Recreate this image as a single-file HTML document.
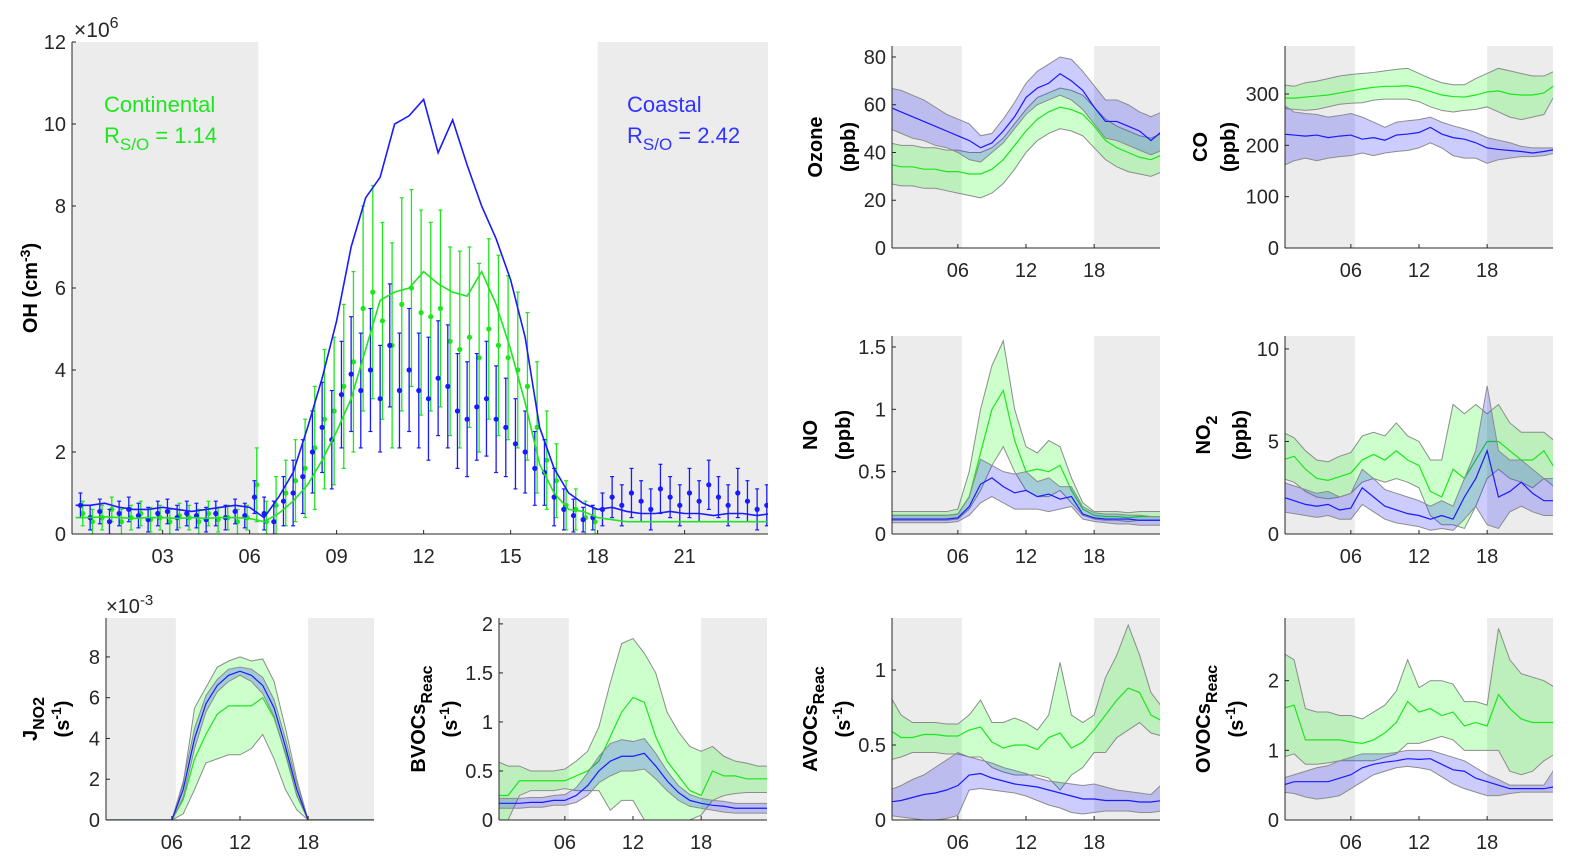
<!DOCTYPE html>
<html><head><meta charset="utf-8"><style>
html,body{margin:0;padding:0;background:#fff}
svg{display:block;font-family:"Liberation Sans",Arial,sans-serif}
</style></head><body>
<svg id="fig" width="1579" height="868" viewBox="0 0 1579 868" xmlns="http://www.w3.org/2000/svg"></svg>
<script>
// ===== main OH panel data =====
const ohLineHours = [0,0.5,1,1.5,2,2.5,3,3.5,4,4.5,5,5.5,6,6.5,7,7.5,8,8.5,9,9.5,10,10.5,11,11.5,12,12.5,13,13.5,14,14.5,15,15.5,16,16.5,17,17.5,18,18.5,19,19.5,20,20.5,21,21.5,22,22.5,23,23.5,24];
const ohCoastalLine = [0.7,0.7,0.75,0.65,0.6,0.6,0.65,0.6,0.55,0.6,0.65,0.7,0.65,0.4,0.9,1.5,2.6,3.8,5.2,7.0,8.2,8.7,10.0,10.2,10.6,9.3,10.1,9.0,8.0,7.2,6.2,4.8,2.6,1.6,1.0,0.75,0.6,0.65,0.55,0.5,0.5,0.55,0.5,0.5,0.45,0.5,0.5,0.45,0.5];
const ohContinentalLine = [0.4,0.4,0.42,0.4,0.38,0.4,0.4,0.38,0.4,0.38,0.4,0.4,0.38,0.3,0.5,0.8,1.2,1.8,2.5,3.3,4.5,5.7,5.9,6.0,6.4,6.1,5.9,5.8,6.4,5.6,4.5,3.2,1.7,1.0,0.6,0.55,0.4,0.35,0.3,0.3,0.3,0.3,0.3,0.3,0.3,0.3,0.3,0.3,0.3];
const ohCoastalDots = [0.7,0.4,0.55,0.3,0.5,0.6,0.45,0.35,0.5,0.55,0.4,0.5,0.45,0.35,0.5,0.4,0.55,0.45,0.9,0.5,0.3,0.8,1.0,1.4,2.0,2.6,2.3,3.4,3.9,3.5,4.0,3.3,4.6,3.5,4.0,3.5,3.3,3.8,3.6,3.0,2.8,3.1,3.3,2.8,2.6,2.2,2.0,1.6,1.5,0.9,0.6,0.45,0.35,0.4,0.6,0.9,0.7,1.0,0.8,0.6,1.1,0.9,0.7,1.0,0.8,1.2,0.9,0.7,1.0,0.8,0.6,0.7];
const ohCoastalErr = [0.3,0.3,0.3,0.3,0.3,0.3,0.3,0.3,0.3,0.3,0.3,0.3,0.3,0.3,0.3,0.3,0.3,0.3,0.4,0.4,0.5,0.6,0.8,0.9,1.0,1.1,1.2,1.3,1.4,1.4,1.5,1.3,1.5,1.4,1.5,1.4,1.5,1.4,1.5,1.4,1.4,1.3,1.4,1.3,1.2,1.1,1.0,0.9,0.8,0.7,0.5,0.4,0.3,0.3,0.4,0.5,0.5,0.6,0.5,0.5,0.6,0.5,0.5,0.6,0.5,0.6,0.5,0.5,0.6,0.5,0.5,0.5];
const ohContinentalDots = [0.5,0.3,0.4,0.6,0.3,0.4,0.5,0.35,0.4,0.3,0.45,0.4,0.3,0.5,0.35,0.4,0.3,0.4,1.2,0.3,0.7,1.0,1.3,1.6,2.1,2.8,3.0,3.6,4.2,5.5,5.9,5.2,4.6,5.6,6.0,5.4,5.3,5.5,4.7,4.5,4.8,4.3,5.0,4.6,4.3,4.0,3.6,2.6,1.8,1.3,0.7,0.6,0.4,0.3,null,null,null,null,null,null,null,null,null,null,null,null,null,null,null,null,null,null];
const ohContinentalErr = [0.3,0.3,0.3,0.3,0.3,0.3,0.3,0.3,0.3,0.3,0.3,0.3,0.3,0.3,0.3,0.3,0.3,0.3,0.9,0.5,0.7,0.8,1.0,1.2,1.5,1.7,1.8,2.0,2.2,2.5,2.6,2.4,2.5,2.6,2.4,2.5,2.3,2.4,2.3,2.4,2.2,2.3,2.2,2.2,2.0,1.9,1.8,1.6,1.2,0.9,0.6,0.5,0.4,0.3,null,null,null,null,null,null,null,null,null,null,null,null,null,null,null,null,null,null];
const ohYTicks = [0,2,4,6,8,10,12];
const ohXTicks = [3,6,9,12,15,18,21];
const ohXTickLabels = ["03","06","09","12","15","18","21"];

// ===== small panel data (hourly 0..24) =====
const hours = [0,1,2,3,4,5,6,7,8,9,10,11,12,13,14,15,16,17,18,19,20,21,22,23,24];
const smallXTicks = [6,12,18];
const smallXTickLabels = ["06","12","18"];

const ozoneGreen = [35,34,34,33,33,32,32,31,31,33,37,43,49,54,57,59,58,56,51,45,42,40,38,37,39];
const ozoneGreenHi = [44,43,43,42,42,41,41,40,40,42,46,52,58,63,65,67,66,64,59,54,51,49,47,46,48];
const ozoneGreenLo = [27,26,26,25,25,24,23,22,21,23,27,33,40,45,48,50,49,47,42,37,34,32,31,30,32];
const ozoneBlue = [59,57,55,53,51,49,47,45,42,44,49,55,63,67,69,73,70,66,59,53,53,51,49,45,49];
const ozoneBlueHi = [67,66,64,62,59,56,54,52,47,48,54,61,69,74,77,80,79,74,68,62,62,60,57,55,57];
const ozoneBlueLo = [50,48,46,45,43,42,40,37,36,40,44,50,56,60,62,64,62,58,52,46,45,43,41,39,41];

const coGreen = [292,292,294,296,298,302,306,310,313,315,315,316,312,305,298,295,294,298,304,306,300,298,298,302,318];
const coGreenHi = [318,315,322,325,330,335,338,340,342,345,348,350,340,330,322,318,318,330,340,350,345,340,335,335,345];
const coGreenLo = [272,270,268,270,275,280,282,283,288,290,290,290,285,275,268,265,268,270,275,265,255,250,255,260,300];
const coBlue = [222,220,218,220,215,218,220,212,215,210,220,222,225,235,222,215,212,205,195,192,190,188,185,188,192];
const coBlueHi = [280,265,262,260,255,258,262,255,245,235,245,248,250,255,245,238,232,225,215,210,205,198,195,195,195];
const coBlueLo = [160,170,175,170,175,178,180,185,180,185,188,190,195,205,195,180,175,175,165,172,175,178,178,180,185];

const noGreen = [0.15,0.15,0.15,0.15,0.15,0.15,0.16,0.3,0.65,1.0,1.15,0.75,0.5,0.52,0.5,0.55,0.35,0.2,0.15,0.14,0.14,0.13,0.14,0.14,0.14];
const noGreenHi = [0.18,0.18,0.18,0.18,0.18,0.18,0.2,0.5,1.0,1.35,1.55,1.0,0.7,0.65,0.75,0.7,0.45,0.25,0.18,0.18,0.18,0.17,0.18,0.18,0.18];
const noGreenLo = [0.11,0.11,0.11,0.11,0.11,0.11,0.12,0.2,0.35,0.55,0.7,0.5,0.35,0.3,0.3,0.35,0.25,0.15,0.12,0.11,0.11,0.1,0.11,0.11,0.11];
const noBlue = [0.12,0.12,0.12,0.12,0.12,0.12,0.13,0.22,0.4,0.45,0.38,0.33,0.35,0.3,0.32,0.28,0.3,0.16,0.13,0.12,0.12,0.12,0.11,0.11,0.11];
const noBlueHi = [0.15,0.15,0.15,0.15,0.15,0.15,0.16,0.3,0.6,0.55,0.5,0.48,0.5,0.42,0.45,0.38,0.38,0.22,0.17,0.16,0.16,0.15,0.15,0.14,0.14];
const noBlueLo = [0.09,0.09,0.09,0.09,0.09,0.09,0.1,0.15,0.25,0.3,0.25,0.2,0.2,0.2,0.18,0.2,0.22,0.12,0.1,0.09,0.08,0.08,0.07,0.07,0.07];

const no2Green = [4.0,4.2,3.5,3.0,2.9,3.1,3.3,4.0,4.3,4.0,4.5,4.0,3.7,2.3,2.0,3.5,3.0,4.0,5.0,5.0,4.5,4.0,4.0,4.5,3.5];
const no2GreenHi = [5.5,5.2,4.5,4.0,3.9,4.2,4.4,5.3,5.5,5.3,6.0,5.3,5.0,4.0,4.0,7.0,6.5,7.0,6.5,7.0,6.0,5.5,5.5,5.5,5.0];
const no2GreenLo = [3.0,2.8,2.3,2.0,1.9,2.0,2.2,2.8,3.0,2.8,3.0,2.8,2.5,1.0,0.5,0.5,0.3,1.5,3.0,3.5,3.0,2.8,2.5,3.0,2.5];
const no2Blue = [2.0,1.8,1.6,1.5,1.6,1.3,1.4,2.5,2.0,1.5,1.3,1.1,1.0,0.8,1.0,0.8,2.0,3.0,4.5,2.0,2.3,2.8,2.2,1.8,1.8];
const no2BlueHi = [2.8,2.6,2.4,2.2,2.3,2.0,2.2,3.5,3.0,2.4,2.2,2.0,1.8,1.5,1.8,1.5,3.0,4.5,8.0,4.5,4.0,4.0,3.5,3.0,3.0];
const no2BlueLo = [1.2,1.1,1.0,0.9,1.0,0.8,0.8,1.6,1.2,0.8,0.6,0.5,0.4,0.2,0.3,0.2,0.8,1.5,0.5,0.3,1.2,1.5,1.2,1.0,1.0];

const jGreen = [0,0,0,0,0,0,0,1.0,3.0,4.2,5.2,5.6,5.6,5.6,6.0,5.0,3.3,1.2,0,0,0,0,0,0,0];
const jGreenHi = [0,0,0,0,0,0,0,1.8,5.5,6.5,7.5,7.8,8.0,7.8,7.9,6.8,4.5,2.0,0,0,0,0,0,0,0];
const jGreenLo = [0,0,0,0,0,0,0,0.3,1.5,2.8,3.0,3.2,3.2,3.5,4.2,3.0,1.5,0.5,0,0,0,0,0,0,0];
const jBlue = [0,0,0,0,0,0,0,1.5,4.0,5.7,6.6,7.1,7.3,7.1,6.6,5.5,3.6,1.5,0,0,0,0,0,0,0];
const jBlueHi = [0,0,0,0,0,0,0,1.9,4.5,6.1,6.9,7.4,7.5,7.4,7.0,5.9,4.0,1.8,0,0,0,0,0,0,0];
const jBlueLo = [0,0,0,0,0,0,0,1.1,3.5,5.3,6.3,6.8,7.1,6.8,6.2,5.1,3.2,1.2,0,0,0,0,0,0,0];

const bvocGreen = [0.25,0.25,0.4,0.4,0.4,0.4,0.4,0.45,0.5,0.6,0.85,1.1,1.25,1.2,0.85,0.6,0.45,0.3,0.25,0.5,0.45,0.45,0.42,0.42,0.42];
const bvocGreenHi = [0.6,0.55,0.55,0.5,0.5,0.5,0.52,0.6,0.7,0.95,1.4,1.8,1.85,1.7,1.5,1.1,0.9,0.75,0.7,0.75,0.65,0.6,0.58,0.55,0.55];
const bvocGreenLo = [0,0,0.25,0.3,0.3,0.3,0.32,0.3,0.3,0.3,0.1,0.2,0.2,0,0,0,0,0,0.05,0.2,0.25,0.27,0.28,0.28,0.28];
const bvocBlue = [0.17,0.17,0.17,0.18,0.18,0.2,0.2,0.25,0.35,0.5,0.6,0.65,0.65,0.68,0.55,0.4,0.28,0.2,0.17,0.15,0.14,0.12,0.12,0.12,0.12];
const bvocBlueHi = [0.22,0.22,0.22,0.23,0.23,0.25,0.26,0.33,0.48,0.65,0.78,0.82,0.8,0.83,0.68,0.5,0.35,0.26,0.22,0.2,0.19,0.17,0.17,0.17,0.17];
const bvocBlueLo = [0.12,0.12,0.12,0.13,0.13,0.15,0.15,0.18,0.25,0.38,0.45,0.5,0.5,0.52,0.42,0.3,0.2,0.14,0.12,0.1,0.08,0.07,0.07,0.07,0.07];

const avocGreen = [0.6,0.55,0.55,0.57,0.57,0.56,0.56,0.6,0.62,0.52,0.48,0.5,0.5,0.47,0.55,0.58,0.48,0.52,0.6,0.7,0.8,0.88,0.85,0.7,0.66];
const avocGreenHi = [0.83,0.7,0.65,0.65,0.65,0.64,0.64,0.7,0.8,0.65,0.65,0.68,0.65,0.6,0.7,1.05,0.7,0.65,0.7,0.95,1.1,1.3,1.1,0.85,0.75];
const avocGreenLo = [0.4,0.42,0.45,0.45,0.45,0.44,0.44,0.42,0.42,0.35,0.32,0.3,0.3,0.3,0.28,0.2,0.3,0.35,0.45,0.45,0.55,0.6,0.65,0.58,0.56];
const avocBlue = [0.12,0.13,0.15,0.17,0.18,0.2,0.23,0.3,0.31,0.28,0.26,0.24,0.23,0.22,0.2,0.18,0.16,0.14,0.14,0.13,0.13,0.13,0.12,0.12,0.13];
const avocBlueHi = [0.2,0.23,0.27,0.3,0.35,0.4,0.45,0.42,0.4,0.38,0.35,0.33,0.31,0.28,0.26,0.25,0.24,0.23,0.24,0.22,0.2,0.19,0.18,0.17,0.24];
const avocBlueLo = [0.03,0.02,0.01,0,0,0.01,0.03,0.2,0.21,0.2,0.19,0.18,0.16,0.13,0.1,0.08,0.05,0.04,0.05,0.06,0.06,0.06,0.05,0.05,0.06];

const ovocGreen = [1.6,1.65,1.15,1.15,1.15,1.15,1.12,1.1,1.15,1.25,1.4,1.7,1.55,1.6,1.5,1.55,1.35,1.4,1.35,1.8,1.6,1.45,1.4,1.4,1.4];
const ovocGreenHi = [2.4,2.3,1.6,1.55,1.55,1.5,1.5,1.45,1.55,1.65,1.85,2.3,1.9,2.0,2.0,1.95,1.7,1.7,1.65,2.75,2.3,2.1,2.05,2.0,1.9];
const ovocGreenLo = [0.9,0.95,0.8,0.8,0.82,0.85,0.85,0.85,0.85,0.9,0.95,1.1,1.1,1.15,1.2,1.15,1.0,1.0,1.0,1.0,0.7,0.65,0.7,0.85,0.95];
const ovocBlue = [0.5,0.55,0.55,0.55,0.55,0.6,0.65,0.75,0.8,0.83,0.85,0.88,0.87,0.88,0.8,0.72,0.7,0.6,0.55,0.5,0.45,0.45,0.45,0.45,0.48];
const ovocBlueHi = [0.6,0.65,0.7,0.75,0.78,0.85,0.9,0.95,0.95,0.95,0.97,1.0,1.0,1.0,0.95,0.9,0.85,0.75,0.65,0.58,0.5,0.5,0.5,0.5,0.75];
const ovocBlueLo = [0.4,0.38,0.33,0.3,0.32,0.35,0.45,0.55,0.65,0.7,0.75,0.77,0.75,0.72,0.62,0.52,0.45,0.4,0.35,0.35,0.38,0.4,0.4,0.4,0.4];

const ozoneYTicks=[0,20,40,60,80], coYTicks=[0,100,200,300], noYTicks=[0,0.5,1,1.5], no2YTicks=[0,5,10];
const jYTicks=[0,2,4,6,8], bvocYTicks=[0,0.5,1,1.5,2], avocYTicks=[0,0.5,1], ovocYTicks=[0,1,2];

// ===== drawing =====
const NS="http://www.w3.org/2000/svg";
const svg=document.getElementById('fig');
const GREEN="#1ee61e", BLUE="#1a1aff", TXT="#262626";
const FS=20;
function mk(tag,attrs,parent){const e=document.createElementNS(NS,tag);for(const k in attrs)e.setAttribute(k,attrs[k]);(parent||svg).appendChild(e);return e;}
function fmt(v){return String(v);}

let clipId=0;
function panel(cfg){
  const g=mk('g',{});
  
  
  const L=cfg.left,R=cfg.left+cfg.width,T=cfg.top,B=cfg.bottom;
  const xs=h=>L+(h-cfg.x0)/(cfg.x1-cfg.x0)*(R-L);
  const ys=v=>B-(v-cfg.y0)/(cfg.y1-cfg.y0)*(B-T);
  const n1=mk('rect',{x:L,y:T,width:xs(cfg.nightEnd)-L,height:B-T,fill:'#ececec'},g);
  
  
  const n2=mk('rect',{x:xs(18),y:T,width:R-xs(18),height:B-T,fill:'#ececec'},g);
  
  
  const id='c'+(clipId++);
  const cp=mk('clipPath',{id:id},g);mk('rect',{x:L,y:T-2,width:R-L,height:B-T+2},cp);
  const plot=mk('g',{'clip-path':'url(#'+id+')'},g);
  return {g,plot,xs,ys,L,R,T,B};
}
function axes(p,cfg,yTicks,yLabels,xTicks,xLabels,fs){
  const g=p.g;
  mk('line',{x1:p.L,y1:p.T,x2:p.L,y2:p.B,stroke:TXT,'stroke-width':1},g);
  mk('line',{x1:p.L,y1:p.B,x2:p.R,y2:p.B,stroke:TXT,'stroke-width':1},g);
  yTicks.forEach((v,i)=>{const y=p.ys(v);
    mk('line',{x1:p.L,y1:y,x2:p.L+4,y2:y,stroke:TXT},g);
    const t=mk('text',{x:p.L-6,y:y+7,'text-anchor':'end','font-size':fs,fill:TXT},g);t.textContent=yLabels[i];
    
    });
  xTicks.forEach((h,i)=>{const x=p.xs(h);
    mk('line',{x1:x,y1:p.B,x2:x,y2:p.B-4,stroke:TXT},g);
    const t=mk('text',{x:x,y:p.B+29,'text-anchor':'middle','font-size':fs,fill:TXT},g);t.textContent=xLabels[i];
    
    });
}
function band(p,xsArr,lo,hi,mean,color,fill,name){
  let d='';xsArr.forEach((h,i)=>{d+=(i?'L':'M')+p.xs(h)+','+p.ys(hi[i]);});
  for(let i=xsArr.length-1;i>=0;i--)d+='L'+p.xs(xsArr[i])+','+p.ys(lo[i]);
  const a=mk('path',{d:d+'Z',fill:fill,stroke:'none'},p.plot);
  
  
  let dh='',dl='',dm='';
  xsArr.forEach((h,i)=>{dh+=(i?'L':'M')+p.xs(h)+','+p.ys(hi[i]);dl+=(i?'L':'M')+p.xs(h)+','+p.ys(lo[i]);dm+=(i?'L':'M')+p.xs(h)+','+p.ys(mean[i]);});
  mk('path',{d:dh,fill:'none',stroke:'#8c8c8c','stroke-width':1},p.plot);
  mk('path',{d:dl,fill:'none',stroke:'#8c8c8c','stroke-width':1},p.plot);
  const m=mk('path',{d:dm,fill:'none',stroke:color,'stroke-width':1.2},p.plot);
  
  
}
function ylabel2(c1,c2,cy,l1,l2,fs){
  const t=mk('text',{transform:`translate(${c1+7},${cy}) rotate(-90)`,'text-anchor':'middle','font-size':fs,'font-weight':'bold',fill:'#000'});
  
  
  t.innerHTML=l1;
  const t2=mk('text',{transform:`translate(${c2+7},${cy}) rotate(-90)`,'text-anchor':'middle','font-size':fs,'font-weight':'bold',fill:'#000'});
  
  
  t2.innerHTML=l2;
}

// ---- main panel ----
(function(){
  const cfg={name:'oh-main-panel',left:72,width:696,top:42,bottom:534,x0:-0.125,x1:23.875,y0:0,y1:12,nightEnd:6.3};
  const p=panel(cfg);
  function line(vals,color,name){let d='';vals.forEach((v,i)=>{d+=(i?'L':'M')+p.xs(ohLineHours[i])+','+p.ys(v);});
    const e=mk('path',{d:d,fill:'none',stroke:color,'stroke-width':1.6},p.plot);
    
    }
  function dots(vals,errs,color,name,off){vals.forEach((v,i)=>{if(v===null)return;const h=(i+0.5)/3+off;const x=p.xs(h);
      const y1=p.ys(Math.max(0,v-errs[i])),y2=p.ys(v+errs[i]);
      mk('line',{x1:x,y1:y1,x2:x,y2:y2,stroke:color,'stroke-width':1.3},p.plot);
      mk('line',{x1:x-2,y1:y1,x2:x+2,y2:y1,stroke:color,'stroke-width':1.2},p.plot);
      mk('line',{x1:x-2,y1:y2,x2:x+2,y2:y2,stroke:color,'stroke-width':1.2},p.plot);
      const c=mk('circle',{cx:x,cy:p.ys(v),r:2.6,fill:color},p.plot);
      
      });}
  dots(ohContinentalDots,ohContinentalErr,GREEN,'continental-dot',0.08);
  dots(ohCoastalDots,ohCoastalErr,BLUE,'coastal-dot',0);
  line(ohContinentalLine,GREEN,'continental-line');
  line(ohCoastalLine,BLUE,'coastal-line');
  axes(p,cfg,ohYTicks,ohYTicks.map(fmt),ohXTicks,ohXTickLabels,FS);
  const ex=mk('text',{x:74,y:37,'font-size':21,fill:TXT});ex.innerHTML='×10<tspan dy="-9" font-size="16">6</tspan>';
  
  
  const yl=mk('text',{transform:'translate(37,288) rotate(-90)','text-anchor':'middle','font-size':20,'font-weight':'bold',fill:'#000'});
  yl.innerHTML='OH (cm<tspan dy="-7" font-size="14">-3</tspan><tspan dy="7">)</tspan>';
  
  
  const c1=mk('text',{x:104,y:112,'font-size':22,fill:GREEN});c1.textContent='Continental';
  
  
  const c2=mk('text',{x:104,y:143,'font-size':22,fill:GREEN});c2.innerHTML='R<tspan dy="7" font-size="17">S/O</tspan><tspan dy="-7"> = 1.14</tspan>';
  
  
  const c3=mk('text',{x:627,y:112,'font-size':22,fill:'#3333ff'});c3.textContent='Coastal';
  
  
  const c4=mk('text',{x:627,y:143,'font-size':22,fill:'#3333ff'});c4.innerHTML='R<tspan dy="7" font-size="17">S/O</tspan><tspan dy="-7"> = 2.42</tspan>';
  
  
})();

// ---- small panels ----
const GF='rgba(0,255,0,0.2)', BF='rgba(0,0,255,0.2)';
function small(name,left,top,bottom,y1,gm,gl,gh,bm,bl,bh,yt,ytl,lab1,lab2,o1,o2){
  const cfg={name:name,left:left,width:268,top:top,bottom:bottom,x0:0.2,x1:23.8,y0:0,y1:y1,nightEnd:6.35};
  const p=panel(cfg);
  band(p,hours,gl,gh,gm,GREEN,GF,name+'-continental');
  band(p,hours,bl,bh,bm,BLUE,BF,name+'-coastal');
  axes(p,cfg,yt,ytl,smallXTicks,smallXTickLabels,FS);
  ylabel2(left+o1,left+o2,(top+bottom)/2,lab1,lab2,20);
  return p;
}
const S1='(s<tspan dy="-8" font-size="14">-1</tspan><tspan dy="8">)</tspan>';
small('ozone-panel',892,46,248,84.6,ozoneGreen,ozoneGreenLo,ozoneGreenHi,ozoneBlue,ozoneBlueLo,ozoneBlueHi,ozoneYTicks,ozoneYTicks.map(fmt),'Ozone','(ppb)',-77,-44);
small('co-panel',1285,46,248,393.5,coGreen,coGreenLo,coGreenHi,coBlue,coBlueLo,coBlueHi,coYTicks,coYTicks.map(fmt),'CO','(ppb)',-85,-57);
small('no-panel',892,336,534,1.588,noGreen,noGreenLo,noGreenHi,noBlue,noBlueLo,noBlueHi,noYTicks,noYTicks.map(fmt),'NO','(ppb)',-82,-49);
small('no2-panel',1285,336,534,10.7,no2Green,no2GreenLo,no2GreenHi,no2Blue,no2BlueLo,no2BlueHi,no2YTicks,no2YTicks.map(fmt),'NO<tspan dy="7" font-size="16">2</tspan>','(ppb)',-82,-45);
small('jno2-panel',106,618,820,9.91,jGreen,jGreenLo,jGreenHi,jBlue,jBlueLo,jBlueHi,jYTicks,jYTicks.map(fmt),'J<tspan dy="7" font-size="16">NO2</tspan>',S1,-76,-44);
small('bvoc-panel',499,618,820,2.06,bvocGreen,bvocGreenLo,bvocGreenHi,bvocBlue,bvocBlueLo,bvocBlueHi,bvocYTicks,bvocYTicks.map(fmt),'BVOCs<tspan dy="7" font-size="16">Reac</tspan>',S1,-81,-49);
small('avoc-panel',892,618,820,1.347,avocGreen,avocGreenLo,avocGreenHi,avocBlue,avocBlueLo,avocBlueHi,avocYTicks,avocYTicks.map(fmt),'AVOCs<tspan dy="7" font-size="16">Reac</tspan>',S1,-82,-49);
small('ovoc-panel',1285,618,820,2.9,ovocGreen,ovocGreenLo,ovocGreenHi,ovocBlue,ovocBlueLo,ovocBlueHi,ovocYTicks,ovocYTicks.map(fmt),'OVOCs<tspan dy="7" font-size="16">Reac</tspan>',S1,-82,-49);
const ej=mk('text',{x:106,y:613,'font-size':20,fill:TXT});ej.innerHTML='×10<tspan dy="-8" font-size="15">-3</tspan>';


</script>
</body></html>
